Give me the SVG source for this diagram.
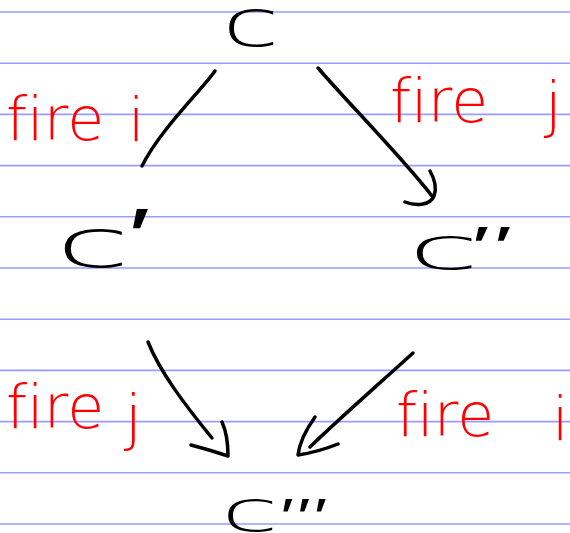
<svg xmlns="http://www.w3.org/2000/svg" width="570" height="533" viewBox="0 0 570 533">
<style>
.rule{stroke:#9a9aff;stroke-width:1.6}
.node{font-family:"DejaVu Sans","Liberation Sans",sans-serif;font-weight:200;fill:#000}
.pr{font-family:Inter,"Noto Sans","DejaVu Sans",sans-serif;font-weight:300}
.lbl{font-family:"DejaVu Sans","Liberation Sans",sans-serif;font-weight:300;font-size:60px;fill:#ff0000;font-variant-ligatures:none;font-feature-settings:"liga" 0}
.edge{fill:none;stroke:#000;stroke-width:3.5;stroke-linecap:round;stroke-linejoin:round}
</style>
<rect width="570" height="533" fill="#fff"/>
<g id="rules">
<line class="rule" x1="0" y1="12" x2="570" y2="12"/>
<line class="rule" x1="0" y1="63.2" x2="570" y2="63.2"/>
<line class="rule" x1="0" y1="114.4" x2="570" y2="114.4"/>
<line class="rule" x1="0" y1="165.6" x2="570" y2="165.6"/>
<line class="rule" x1="0" y1="216.8" x2="570" y2="216.8"/>
<line class="rule" x1="0" y1="268" x2="570" y2="268"/>
<line class="rule" x1="0" y1="319.2" x2="570" y2="319.2"/>
<line class="rule" x1="0" y1="370.4" x2="570" y2="370.4"/>
<line class="rule" x1="0" y1="421.6" x2="570" y2="421.6"/>
<line class="rule" x1="0" y1="472.8" x2="570" y2="472.8"/>
<line class="rule" x1="0" y1="524" x2="570" y2="524"/>
</g>
<g id="connectors">
<path class="edge" d="M215,71 C200,92 160,130 142,166"/>
<path class="edge" d="M318,68 C350,105 400,155 432,196"/>
<path class="edge" d="M405,202 C415,206 430,206 434,196 C437,188 434,178 430,171"/>
<path class="edge" d="M148,342 C160,372 185,405 212,438"/>
<path class="edge" d="M191,445 Q210,450 228,456 Q228,435 222,422"/>
<path class="edge" d="M413,353 C380,383 340,418 310,447"/>
<path class="edge" d="M315,417 Q300,438 298,455 Q318,452 338,444"/>
</g>
<g id="node-c">
<text class="node" font-size="105" transform="translate(222,46) scale(1,0.63)">c</text>
</g>
<g id="node-c1">
<text class="node" font-size="136" transform="translate(55.5,267) scale(1,0.5)">c<tspan class="pr" font-size="150" dx="-5" dy="-7">′</tspan></text>
</g>
<g id="node-c2">
<text class="node" font-size="130" transform="translate(408,269) scale(1,0.45)">c<tspan class="pr" font-size="120" dx="-10" dy="-7">″</tspan></text>
</g>
<g id="node-c3">
<text class="node" font-size="105" transform="translate(221,531) scale(1,0.54)">c<tspan class="pr" font-size="90" dx="0" dy="8">‴</tspan></text>
</g>
<g id="labels">
<text class="lbl"><tspan x="6" y="140">fire </tspan><tspan x="128" y="141">i</tspan></text>
<text class="lbl"><tspan x="390" y="122">fire </tspan><tspan x="545" y="125">j</tspan></text>
<text class="lbl"><tspan x="6" y="428">fire </tspan><tspan x="125" y="438">j</tspan></text>
<text class="lbl"><tspan x="396" y="436">fire </tspan><tspan x="552" y="440">i</tspan></text>
</g>
</svg>
